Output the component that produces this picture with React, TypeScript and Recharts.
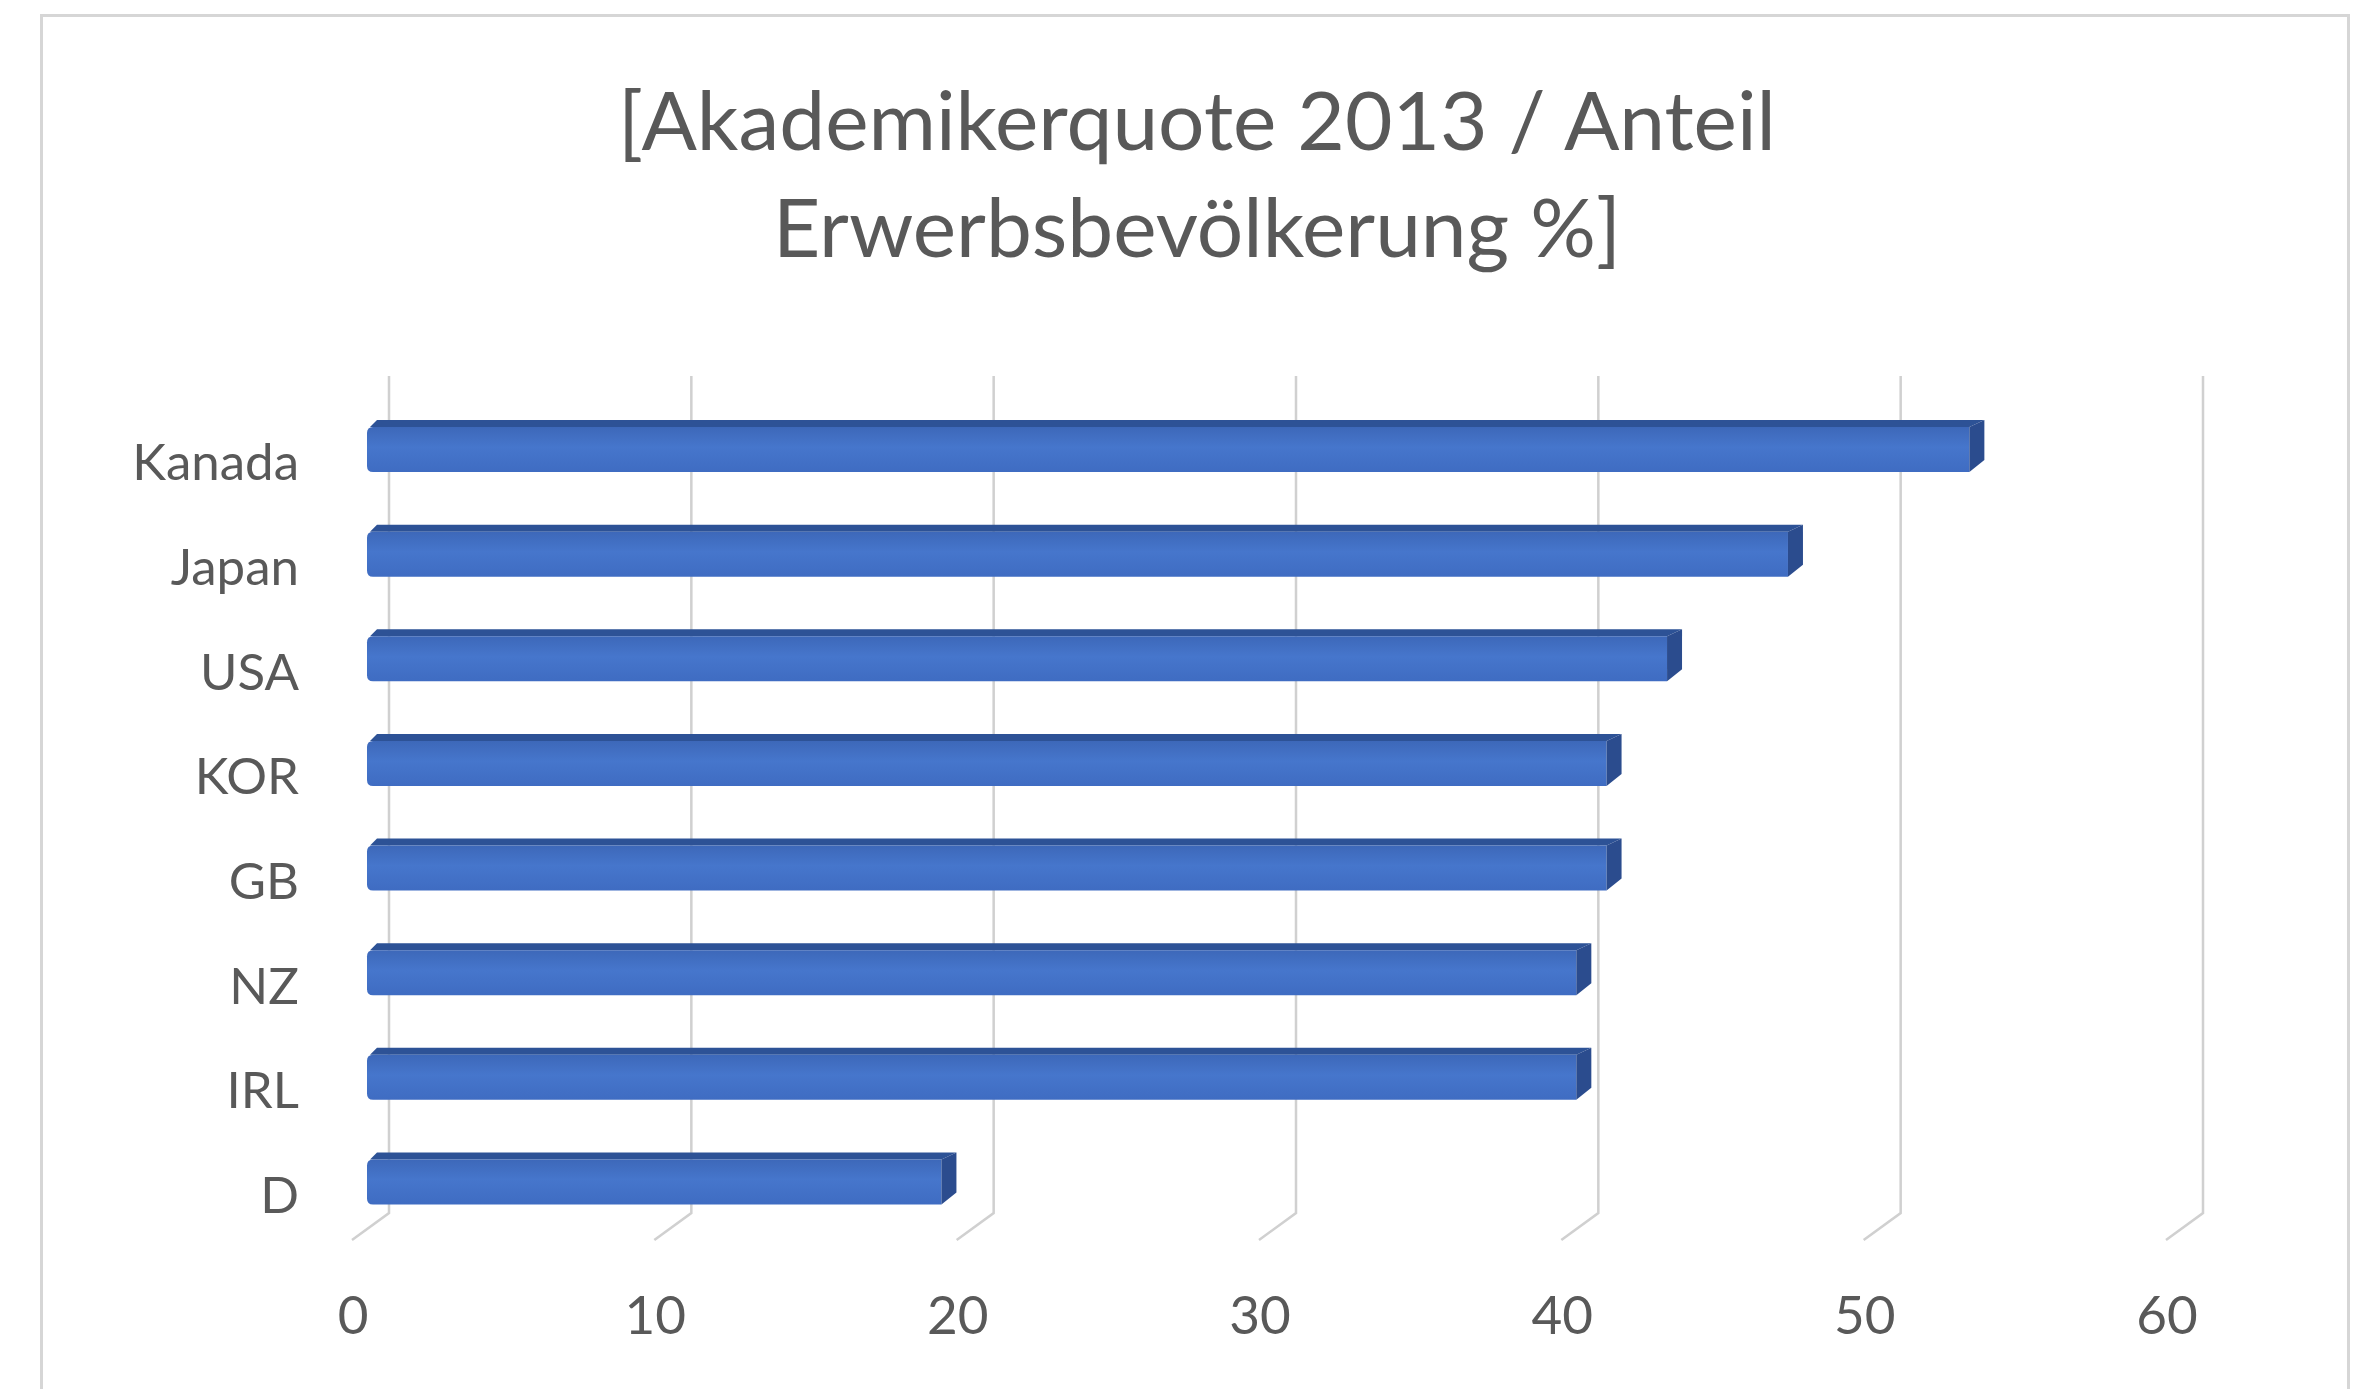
import { CSSProperties } from "react";
import { BarChart, Bar, XAxis, YAxis, CartesianGrid } from "recharts";

const categories = ["Kanada", "Japan", "USA", "KOR", "GB", "NZ", "IRL", "D"];
const quoteValues = [53, 47, 43, 41, 41, 40, 40, 19];
const xTicks = [0, 10, 20, 30, 40, 50, 60];
const titleLines = ["[Akademikerquote 2013 / Anteil", "Erwerbsbevölkerung %]"];

const data = categories.map((land, i) => ({ land, quote: quoteValues[i] }));

const TEXT = "#595959";
const GRID = "#d0d0d0";
const FONT = "Lato, 'Noto Sans', sans-serif";

// depth of the bar's top / side faces
const DEPTH_X = 15;
const DEPTH_Y = 7;

function GridLine(props: any) {
  const { x1, y1, y2 } = props;
  const bx = x1 + 22;
  const d = `M${bx},${y1 - 18} L${bx},${y2 - 18} L${x1 - 15},${y2 + 9}`;
  return <path d={d} stroke={GRID} strokeWidth={2.5} fill="none" />;
}

function Bar3D(props: any) {
  const { x, y, width, height, index } = props;
  if (!width || width <= 0) return null;
  const id = `front-${index}`;
  const top = y + DEPTH_Y;
  const bottom = y + height;
  const right = x + width;
  const r = 6;
  const front = `M${x + r},${top} L${right},${top} L${right},${bottom} L${x + r},${bottom} Q${x},${bottom} ${x},${bottom - r} L${x},${top + r} Q${x},${top} ${x + r},${top} Z`;
  const topFace = `M${x + 3},${top} L${x + 10},${y} L${right + DEPTH_X},${y} L${right},${top} Z`;
  const side = `M${right},${top} L${right + DEPTH_X},${y} L${right + DEPTH_X},${bottom - 12} L${right},${bottom} Z`;
  return (
    <g>
      <defs>
        <linearGradient id={id} x1="0" y1="0" x2="0" y2="1">
          <stop offset="0%" stopColor="#3d68b9" />
          <stop offset="45%" stopColor="#4676cc" />
          <stop offset="100%" stopColor="#3f6cc2" />
        </linearGradient>
      </defs>
      <path d={topFace} fill="#2d5296" />
      <path d={front} fill={`url(#${id})`} />
      <path d={side} fill="#2b4c8e" />
    </g>
  );
}

function YTick(props: any) {
  const { x, y, payload } = props;
  return (
    <text x={x - 68} y={y + 16} dy="0.355em" textAnchor="end" fill={TEXT} fontFamily={FONT} fontSize={51}>
      {payload.value}
    </text>
  );
}

function XTick(props: any) {
  const { x, y, payload } = props;
  return (
    <text x={x - 14} y={y + 84} dy="0.355em" textAnchor="middle" fill={TEXT} fontFamily={FONT} fontSize={53}>
      {payload.value}
    </text>
  );
}

export default function App() {
  const wrapStyle: CSSProperties = {
    position: "relative",
    width: 2357,
    height: 1389,
    overflow: "hidden",
    background: "#ffffff",
  };

  const frameStyle: CSSProperties = {
    position: "absolute",
    left: 40,
    top: 14,
    width: 2310,
    height: 1420,
    border: "3px solid #d6d6d6",
    boxSizing: "border-box",
  };

  const titleStyle: CSSProperties = {
    position: "absolute",
    left: 40,
    top: 65,
    width: 2314,
    textAlign: "center",
    fontFamily: FONT,
    fontWeight: 400,
    fontSize: 82,
    lineHeight: "107px",
    color: TEXT,
  };

  return (
    <div style={wrapStyle}>
      <style>{"body{margin:0}"}</style>
      <div style={frameStyle} />
      <div style={titleStyle}>
        {titleLines.map((line) => (
          <div key={line}>{line}</div>
        ))}
      </div>
      <div style={{ position: "absolute", left: 0, top: 0 }}>
        <BarChart
          width={2357}
          height={1389}
          data={data}
          layout="vertical"
          margin={{ top: 394, right: 176, bottom: 0, left: 0 }}
        >
          <CartesianGrid horizontal={false} vertical={(p: any) => <GridLine key={p.key} {...p} />} />
          <XAxis
            type="number"
            domain={[0, 60]}
            ticks={xTicks}
            height={158}
            axisLine={false}
            tickLine={false}
            tickSize={0}
            tickMargin={0}
            tick={<XTick />}
          />
          <YAxis
            type="category"
            dataKey="land"
            width={367}
            axisLine={false}
            tickLine={false}
            tickSize={0}
            tickMargin={0}
            tick={<YTick />}
          />
          <Bar dataKey="quote" barSize={52} shape={<Bar3D />} isAnimationActive={false} />
        </BarChart>
      </div>
    </div>
  );
}
